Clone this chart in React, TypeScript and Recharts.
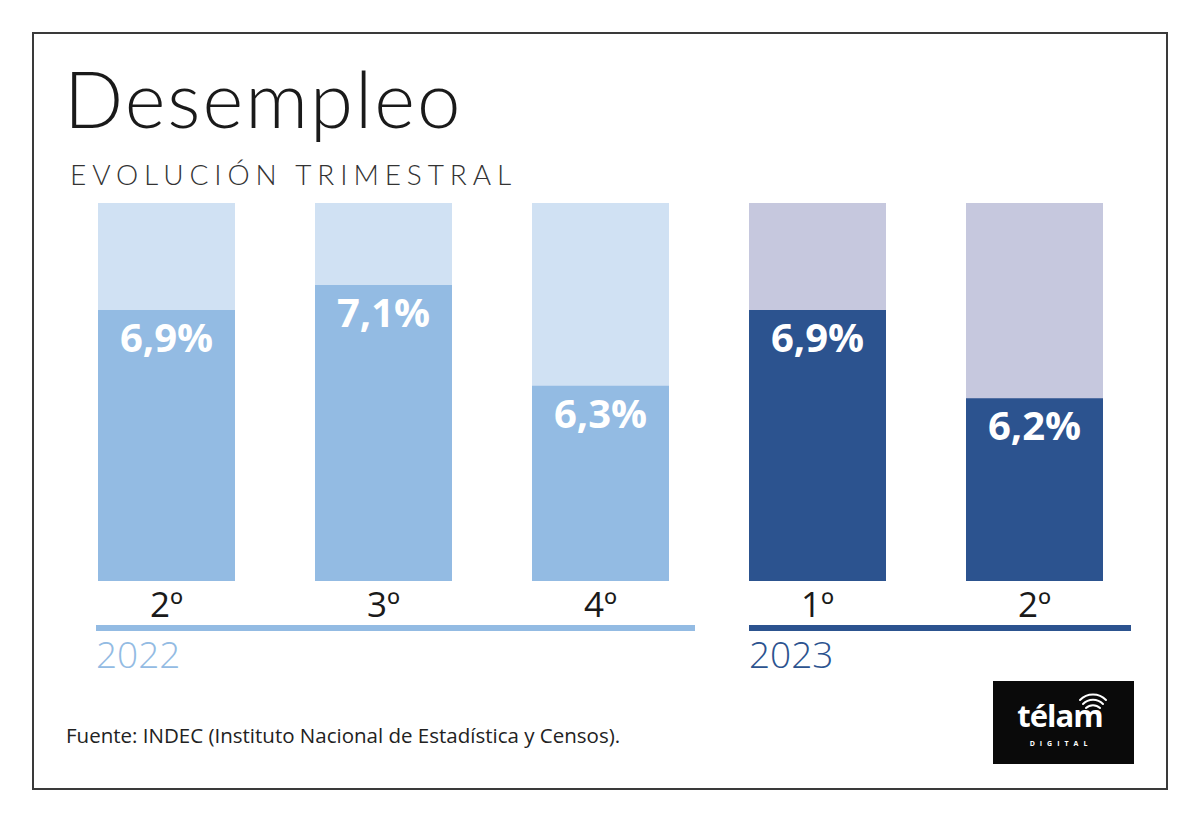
import React from 'react';
import { BarChart, Bar, XAxis, YAxis, LabelList, Cell } from 'recharts';

// Tasa de desempleo trimestral (INDEC)
const quarters = ['2º', '3º', '4º', '1º', '2º'];
const years = [2022, 2022, 2022, 2023, 2023];
const rates = [6.9, 7.1, 6.3, 6.9, 6.2];
const yDomain: [number, number] = [4.75, 7.75];

const yearGroups = [
  { label: '2022', x1: 96, x2: 695 },
  { label: '2023', x1: 749, x2: 1131 },
];

const colors: Record<number, { bar: string; back: string }> = {
  2022: { bar: '#93bbe3', back: '#d0e1f3' },
  2023: { bar: '#2c538f', back: '#c6c8de' },
};

const data = quarters.map((q, i) => ({ id: i, quarter: q, year: years[i], rate: rates[i] }));

const fmt = (v: number) => v.toFixed(1).replace('.', ',') + '%';

const renderBackground = (props: any) => {
  const { x, y, width, height, index } = props;
  return <rect x={x} y={y} width={width} height={height} fill={colors[years[index]].back} />;
};

const renderTick = (props: any) => {
  const { x, y, payload } = props;
  return (
    <text x={x} y={y + 36} textAnchor="middle" fill="#1a1a1a" fontSize={35} fontFamily="Open Sans" fontWeight={400}>
      {quarters[payload.index] ?? payload.value}
    </text>
  );
};

const renderValue = (props: any) => {
  const { x, y, width, value } = props;
  return (
    <text x={x + width / 2} y={y + 42} textAnchor="middle" fill="#ffffff" fontSize={40} fontFamily="Open Sans" fontWeight={700}>
      {fmt(value)}
    </text>
  );
};

export default function App() {
  return (
    <div style={{ position: 'absolute', left: 0, top: 0, width: 1200, height: 822, background: '#fff' }}>
      <svg width={1200} height={822} style={{ position: 'absolute', left: 0, top: 0 }}>
        <rect x={33} y={33} width={1134} height={756} fill="#fff" stroke="#3a3a3a" strokeWidth={2} />
        <text x={64} y={128} fontSize={78} fontFamily="Lato" fontWeight={300} fill="#1a1a1a" letterSpacing={2}>
          Desempleo
        </text>
        <text x={70} y={185} fontSize={28} fontFamily="Lato" fontWeight={300} fill="#333" letterSpacing={5.9}>
          EVOLUCIÓN TRIMESTRAL
        </text>
        {yearGroups.map((g) => (
          <g key={g.label}>
            <rect x={g.x1} y={625} width={g.x2 - g.x1} height={6} fill={colors[Number(g.label)].bar} />
            <text x={g.x1} y={668} fontSize={37} fontFamily="Open Sans" fontWeight={300} fill={colors[Number(g.label)].bar}>
              {g.label}
            </text>
          </g>
        ))}
        <text x={66} y={743} fontSize={20.5} fontFamily="Open Sans" fill="#222">
          Fuente: INDEC (Instituto Nacional de Estadística y Censos).
        </text>
        <rect x={993} y={681} width={141} height={83} fill="#0a0a0a" />
        <text x={1060} y={727} textAnchor="middle" fontSize={31} fontFamily="Open Sans" fontWeight={700} fill="#fff" letterSpacing={-1}>
          télam
        </text>
        <text x={1061} y={746} textAnchor="middle" fontSize={7} fontFamily="Open Sans" fontWeight={700} fill="#fff" letterSpacing={5}>
          DIGITAL
        </text>
        <g fill="none" stroke="#fff" strokeWidth={2} strokeLinecap="round">
          <path d="M1086 708 A10 10 0 0 1 1100 708" />
          <path d="M1083 704 A14 14 0 0 1 1103 704" />
          <path d="M1080 700 A18 18 0 0 1 1106 700" />
        </g>
      </svg>
      <div style={{ position: 'absolute', left: 0, top: 0 }}>
        <BarChart width={1200} height={822} data={data} margin={{ top: 203, right: 57, bottom: 211, left: 58 }} barSize={137}>
          <XAxis dataKey="id" height={30} axisLine={false} tickLine={false} tickSize={0} tickMargin={0} tick={renderTick} interval={0} />
          <YAxis hide domain={yDomain} type="number" />
          <Bar dataKey="rate" isAnimationActive={false} background={renderBackground}>
            {data.map((d) => (
              <Cell key={d.id} fill={colors[d.year].bar} />
            ))}
            <LabelList dataKey="rate" content={renderValue} />
          </Bar>
        </BarChart>
      </div>
    </div>
  );
}
